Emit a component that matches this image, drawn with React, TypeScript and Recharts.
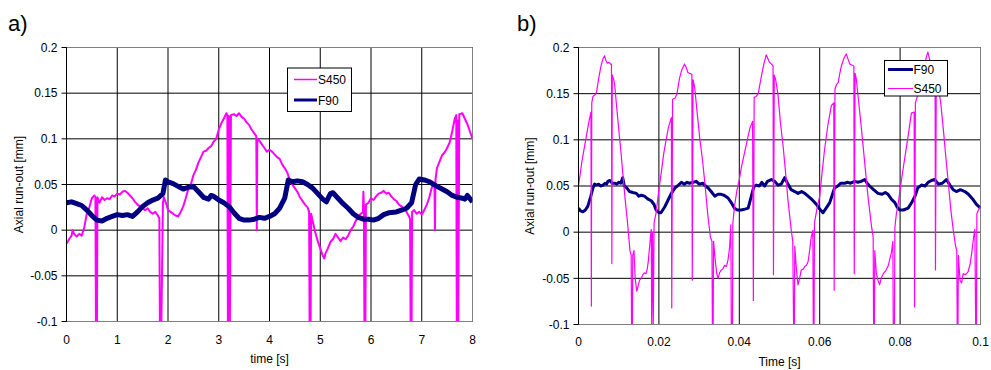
import React from 'react';
import { LineChart, Line, XAxis, YAxis, CartesianGrid, ReferenceLine, Label } from 'recharts';

const FONT = '"Liberation Sans", Arial, Helvetica, sans-serif';
const MAGENTA = '#FF00FF';
const NAVY = '#000080';

// ---- tick labels ----
const timeTicksA = [0, 1, 2, 3, 4, 5, 6, 7, 8]; // s
const timeTicksB = [0, 20, 40, 60, 80, 100]; // ms (shown in s)
const runoutTicks = [-0.1, -0.05, 0, 0.05, 0.1, 0.15, 0.2];

// ---- panel a) : [time s, run-out mm] ----
const aS450: [number, number][] = [
  [0, -0.015], [0.05, -0.01], [0.1, -0.006], [0.12, 0.0], [0.15, -0.004], [0.2, -0.007], [0.25, -0.004], [0.3, -0.006],
  [0.35, 0.003], [0.4, 0.018], [0.45, 0.025], [0.5, 0.035], [0.55, 0.038], [0.57, 0.036], [0.58, -0.1], [0.6, -0.1],
  [0.61, 0.036], [0.65, 0.03], [0.7, 0.036], [0.75, 0.033], [0.8, 0.035], [0.85, 0.034], [0.9, 0.038], [0.95, 0.037],
  [1.0, 0.04], [1.05, 0.039], [1.1, 0.042], [1.15, 0.043], [1.2, 0.041], [1.25, 0.038], [1.3, 0.035], [1.35, 0.031],
  [1.4, 0.028], [1.45, 0.026], [1.5, 0.024], [1.55, 0.022], [1.6, 0.024], [1.65, 0.02], [1.7, 0.018], [1.75, 0.02],
  [1.8, 0.016], [1.83, 0.013], [1.84, -0.1], [1.87, -0.1], [1.9, 0.03], [1.92, 0.036], [1.97, 0.028], [2.0, 0.022],
  [2.05, 0.02], [2.1, 0.018], [2.15, 0.016], [2.2, 0.015], [2.25, 0.02], [2.3, 0.026], [2.35, 0.035], [2.4, 0.045],
  [2.45, 0.05], [2.5, 0.06], [2.55, 0.066], [2.6, 0.074], [2.65, 0.08], [2.7, 0.086], [2.75, 0.087], [2.8, 0.09],
  [2.85, 0.092], [2.9, 0.097], [2.95, 0.1], [3.0, 0.11], [3.05, 0.117], [3.1, 0.122], [3.15, 0.128], [3.17, 0.126],
  [3.18, -0.1], [3.19, -0.1], [3.2, 0.125], [3.22, -0.1], [3.24, 0.126], [3.3, 0.127], [3.35, 0.125], [3.4, 0.128],
  [3.45, 0.124], [3.5, 0.122], [3.55, 0.118], [3.6, 0.115], [3.65, 0.11], [3.7, 0.106], [3.74, 0.103], [3.75, 0.0],
  [3.76, 0.1], [3.8, 0.098], [3.85, 0.094], [3.9, 0.09], [3.95, 0.086], [4.0, 0.088], [4.05, 0.086], [4.1, 0.083],
  [4.15, 0.08], [4.2, 0.078], [4.25, 0.072], [4.3, 0.068], [4.35, 0.063], [4.4, 0.055], [4.45, 0.05], [4.5, 0.046],
  [4.55, 0.042], [4.6, 0.036], [4.65, 0.032], [4.7, 0.028], [4.75, 0.025], [4.78, 0.02], [4.79, -0.1], [4.81, -0.1],
  [4.82, 0.018], [4.85, 0.01], [4.9, -0.002], [4.95, -0.012], [5.0, -0.02], [5.05, -0.028], [5.08, -0.031], [5.1, -0.026],
  [5.15, -0.02], [5.2, -0.013], [5.25, -0.01], [5.3, -0.004], [5.35, -0.008], [5.4, -0.012], [5.45, -0.008], [5.5, -0.01],
  [5.55, -0.006], [5.6, 0.0], [5.65, 0.004], [5.7, 0.01], [5.75, 0.015], [5.8, 0.018], [5.84, 0.02], [5.85, 0.042],
  [5.86, 0.025], [5.87, -0.1], [5.89, -0.1], [5.9, 0.028], [5.95, 0.03], [6.0, 0.035], [6.05, 0.033], [6.1, 0.037],
  [6.15, 0.04], [6.2, 0.041], [6.25, 0.043], [6.3, 0.04], [6.35, 0.041], [6.4, 0.037], [6.45, 0.034], [6.5, 0.032],
  [6.55, 0.028], [6.6, 0.026], [6.65, 0.024], [6.7, 0.02], [6.75, 0.015], [6.77, 0.012], [6.78, -0.1], [6.8, -0.1],
  [6.81, 0.02], [6.85, 0.022], [6.9, 0.018], [6.95, 0.02], [7.0, 0.017], [7.05, 0.022], [7.1, 0.028], [7.15, 0.036],
  [7.2, 0.047], [7.25, 0.052], [7.26, 0.0], [7.27, 0.055], [7.3, 0.068], [7.35, 0.075], [7.4, 0.082], [7.45, 0.085],
  [7.5, 0.09], [7.55, 0.096], [7.6, 0.108], [7.65, 0.122], [7.68, 0.126], [7.69, -0.1], [7.71, 0.12], [7.72, -0.1],
  [7.74, 0.127], [7.8, 0.128], [7.85, 0.122], [7.9, 0.116], [7.95, 0.108], [8.0, 0.1],
];

const aF90: [number, number][] = [
  [0, 0.03], [0.1, 0.031], [0.2, 0.029], [0.3, 0.027], [0.4, 0.022], [0.5, 0.016], [0.6, 0.011], [0.7, 0.01],
  [0.8, 0.013], [0.9, 0.015], [1.0, 0.017], [1.1, 0.016], [1.2, 0.017], [1.3, 0.015], [1.4, 0.02], [1.5, 0.026],
  [1.6, 0.03], [1.7, 0.033], [1.8, 0.035], [1.9, 0.04], [1.95, 0.055], [2.0, 0.053], [2.1, 0.051], [2.2, 0.048],
  [2.3, 0.045], [2.4, 0.047], [2.5, 0.048], [2.6, 0.042], [2.7, 0.036], [2.8, 0.034], [2.85, 0.038], [2.9, 0.037],
  [3.0, 0.033], [3.1, 0.03], [3.2, 0.026], [3.3, 0.019], [3.4, 0.013], [3.5, 0.011], [3.6, 0.011], [3.7, 0.012],
  [3.8, 0.014], [3.9, 0.013], [4.0, 0.015], [4.1, 0.018], [4.2, 0.024], [4.3, 0.035], [4.37, 0.055], [4.45, 0.053],
  [4.55, 0.054], [4.65, 0.053], [4.75, 0.05], [4.85, 0.046], [4.95, 0.04], [5.05, 0.034], [5.12, 0.031], [5.2, 0.04],
  [5.25, 0.041], [5.35, 0.035], [5.45, 0.029], [5.55, 0.024], [5.65, 0.018], [5.75, 0.014], [5.85, 0.012], [5.95, 0.012],
  [6.05, 0.011], [6.15, 0.013], [6.25, 0.017], [6.35, 0.019], [6.5, 0.02], [6.6, 0.022], [6.7, 0.024], [6.8, 0.03],
  [6.88, 0.05], [6.95, 0.056], [7.05, 0.055], [7.15, 0.053], [7.3, 0.048], [7.4, 0.045], [7.5, 0.042], [7.6, 0.038],
  [7.7, 0.036], [7.8, 0.035], [7.85, 0.034], [7.9, 0.038], [8.0, 0.031],
];

// ---- panel b) : [time ms, run-out mm] ----
const bF90: [number, number][] = [
  [0, 0.026], [0.5, 0.023], [1.1, 0.022], [1.7, 0.024], [2.3, 0.028], [3.0, 0.038], [3.6, 0.048], [4.0, 0.052],
  [4.4, 0.051], [5.0, 0.052], [5.5, 0.05], [6.1, 0.051], [6.6, 0.053], [7.0, 0.052], [7.3, 0.055], [7.8, 0.056],
  [8.4, 0.053], [9.0, 0.053], [9.5, 0.052], [10.0, 0.054], [10.5, 0.053], [11.0, 0.059], [11.4, 0.05], [12.0, 0.048],
  [12.7, 0.044], [13.5, 0.043], [14.4, 0.042], [15.0, 0.039], [15.6, 0.04], [16.4, 0.039], [17.2, 0.036], [18.1, 0.034],
  [18.8, 0.03], [19.3, 0.024], [20.0, 0.021], [20.5, 0.021], [21.4, 0.027], [22.2, 0.034], [23.1, 0.042], [24.0, 0.048],
  [24.6, 0.05], [25.6, 0.054], [26.3, 0.052], [27.0, 0.054], [27.6, 0.053], [28.5, 0.054], [29.3, 0.055], [30.0, 0.052],
  [31.0, 0.053], [31.6, 0.05], [32.2, 0.048], [33.0, 0.044], [33.9, 0.039], [34.7, 0.041], [35.5, 0.041], [36.2, 0.04],
  [37.2, 0.037], [38.0, 0.032], [38.8, 0.026], [39.5, 0.024], [40.5, 0.024], [41.4, 0.025], [42.2, 0.026], [43.0, 0.039],
  [43.6, 0.049], [44.2, 0.051], [45.0, 0.05], [45.6, 0.054], [46.3, 0.05], [47.0, 0.055], [48.0, 0.057], [48.8, 0.055],
  [49.6, 0.051], [50.4, 0.052], [51.3, 0.059], [52.0, 0.053], [52.9, 0.046], [53.8, 0.044], [54.6, 0.042], [55.5, 0.044],
  [56.3, 0.042], [57.1, 0.039], [57.9, 0.036], [58.6, 0.033], [59.2, 0.03], [60.0, 0.025], [60.8, 0.021], [61.6, 0.026],
  [62.5, 0.032], [63.1, 0.04], [63.7, 0.048], [64.5, 0.05], [65.2, 0.053], [66.2, 0.053], [67.0, 0.054], [67.7, 0.053],
  [68.7, 0.055], [69.5, 0.054], [70.3, 0.055], [71.2, 0.057], [71.8, 0.053], [72.4, 0.05], [73.4, 0.046], [74.5, 0.042],
  [75.5, 0.041], [76.3, 0.043], [77.0, 0.041], [77.8, 0.036], [78.7, 0.032], [79.3, 0.027], [79.9, 0.024], [80.8, 0.024],
  [82.0, 0.026], [83.0, 0.033], [83.7, 0.039], [84.4, 0.048], [85.3, 0.051], [86.2, 0.05], [87.0, 0.054], [87.8, 0.056],
  [88.6, 0.057], [89.5, 0.052], [90.5, 0.053], [91.5, 0.057], [92.4, 0.051], [93.2, 0.046], [94.0, 0.044], [95.0, 0.046],
  [96.1, 0.044], [97.0, 0.041], [98.2, 0.035], [99.0, 0.03], [100, 0.026],
];

const bS450: [number, number][] = [
  [0, 0.05], [0.8, 0.075], [1.5, 0.093], [2.2, 0.11], [2.7, 0.122], [3.1, 0.13], [3.2, -0.08], [3.3, 0.14],
  [3.6, 0.147], [4.2, 0.149], [4.5, 0.152], [5.0, 0.166], [5.6, 0.18], [6.1, 0.188], [6.5, 0.191], [6.8, 0.186],
  [7.2, 0.183], [7.6, 0.184], [8.0, 0.182], [8.2, 0.182], [8.3, -0.034], [8.4, 0.17], [8.7, 0.166], [9.0, 0.16],
  [9.4, 0.14], [10.0, 0.112], [10.6, 0.085], [11.2, 0.055], [11.6, 0.036], [12.2, 0.01], [12.8, -0.02], [13.1, -0.025],
  [13.2, -0.1], [13.4, -0.1], [13.5, -0.025], [13.8, -0.02], [14.1, -0.05], [14.5, -0.064], [14.9, -0.057], [15.2, -0.052],
  [15.6, -0.05], [16.0, -0.046], [16.4, -0.044], [16.8, -0.045], [17.1, -0.04], [17.4, -0.03], [17.8, -0.01], [18.1, 0.003],
  [18.2, -0.1], [18.4, 0.0], [18.6, -0.1], [18.8, 0.01], [19.3, 0.021], [20.0, 0.046],
  [20.6, 0.065], [21.2, 0.085], [21.8, 0.1], [22.4, 0.114], [23.1, 0.124], [23.2, -0.082], [23.4, 0.144], [24.0, 0.145],
  [24.5, 0.15], [25.1, 0.166], [25.7, 0.176], [26.4, 0.182], [26.8, 0.178], [27.2, 0.173], [27.6, 0.172], [28.2, 0.171],
  [28.3, -0.052], [28.5, 0.165], [28.9, 0.157], [29.5, 0.13], [30.2, 0.1], [30.8, 0.08], [31.5, 0.05], [32.2, 0.017],
  [32.8, -0.005], [33.2, -0.01], [33.3, -0.1], [33.5, -0.1], [33.6, -0.01], [34.0, -0.03], [34.4, -0.045], [34.7, -0.05],
  [35.1, -0.044], [35.5, -0.041], [35.9, -0.04], [36.3, -0.036], [36.8, -0.037], [37.2, -0.03], [37.6, -0.016], [37.9, 0.008],
  [38.0, -0.1], [38.3, -0.1], [38.4, 0.01], [38.8, 0.028], [39.4, 0.045], [40.0, 0.057],
  [40.6, 0.072], [41.3, 0.086], [42.0, 0.1], [42.6, 0.112], [43.3, 0.12], [43.5, -0.074], [43.7, 0.146], [44.2, 0.147],
  [44.7, 0.15], [45.5, 0.169], [46.1, 0.182], [46.7, 0.192], [47.1, 0.188], [47.5, 0.184], [48.0, 0.182], [48.4, 0.18],
  [48.5, -0.046], [48.7, 0.17], [49.0, 0.166], [49.6, 0.15], [50.2, 0.12], [50.9, 0.093], [51.5, 0.065], [52.1, 0.035],
  [52.9, 0.003], [53.3, -0.01], [53.5, -0.1], [53.7, -0.1], [53.8, -0.015], [54.2, -0.04], [54.6, -0.057], [55.0, -0.05],
  [55.4, -0.041], [55.9, -0.04], [56.3, -0.037], [56.7, -0.036], [57.1, -0.032], [57.5, -0.02], [57.9, -0.005], [58.3, 0.002],
  [58.4, -0.1], [58.6, -0.1], [58.7, 0.01], [59.3, 0.025], [60.0, 0.039],
  [60.6, 0.065], [61.2, 0.089], [62.0, 0.115], [62.9, 0.137], [63.5, 0.14], [63.6, -0.063], [63.8, 0.155], [64.2, 0.16],
  [64.6, 0.162], [65.0, 0.172], [65.4, 0.18], [66.0, 0.188], [66.6, 0.193], [67.0, 0.188], [67.5, 0.182], [68.0, 0.181],
  [68.5, 0.18], [68.6, -0.045], [68.8, 0.172], [69.1, 0.166], [69.6, 0.145], [70.4, 0.111], [71.2, 0.075], [72.0, 0.039],
  [72.9, 0.006], [73.3, -0.005], [73.4, -0.1], [73.6, -0.1], [73.7, -0.02], [74.1, -0.045], [74.5, -0.052], [74.9, -0.057],
  [75.3, -0.05], [75.8, -0.045], [76.4, -0.042], [77.0, -0.037], [77.4, -0.03], [77.8, -0.023], [78.2, -0.01], [78.3, -0.1],
  [78.6, -0.1], [78.7, 0.005], [79.1, 0.021], [79.5, 0.03], [80.0, 0.046],
  [80.8, 0.07], [81.6, 0.093], [82.2, 0.11], [82.8, 0.129], [83.5, 0.13], [83.6, -0.081], [83.8, 0.14], [84.3, 0.147],
  [84.8, 0.155], [85.3, 0.166], [85.9, 0.178], [86.5, 0.189], [86.9, 0.195], [87.3, 0.188], [87.8, 0.18], [88.2, 0.178],
  [88.7, 0.175], [88.8, -0.041], [89.0, 0.165], [89.5, 0.158], [90.1, 0.14], [90.7, 0.114], [91.3, 0.085], [92.0, 0.053],
  [92.6, 0.025], [93.2, 0.003], [93.8, -0.015], [94.1, -0.02], [94.2, -0.1], [94.4, -0.1], [94.5, -0.025], [94.9, -0.052],
  [95.3, -0.055], [95.7, -0.045], [96.3, -0.046], [96.9, -0.043], [97.4, -0.035], [97.8, -0.023], [98.3, -0.005], [98.6, 0.003],
  [98.8, -0.1], [99.0, -0.1], [99.1, 0.02], [99.5, 0.024], [100, 0.028],
];

const toPts = (arr: [number, number][]) => arr.map(([t, v]) => ({ t, v }));

const tickStyle = { fontSize: 12, fill: '#000', fontFamily: FONT };

function Panel(props: {
  width: number;
  margin: { top: number; right: number; bottom: number; left: number };
  xTicks: number[];
  xFmt: (v: number) => string;
  xLabel: string;
  yLabelOffset: number;
  xTickMargin: number;
  series: { name: string; data: [number, number][]; color: string; width: number }[];
}) {
  const { width, margin, xTicks, xFmt, xLabel, series, yLabelOffset, xTickMargin } = props;
  const xMax = xTicks[xTicks.length - 1];
  return (
    <LineChart width={width} height={370} margin={margin} style={{ fontFamily: FONT }}>
      <CartesianGrid stroke="#000" strokeWidth={1} />
      <XAxis
        type="number"
        dataKey="t"
        domain={[0, xMax]}
        ticks={xTicks}
        tickFormatter={xFmt}
        allowDataOverflow
        height={30}
        tickLine={false}
        tickSize={0}
        tickMargin={xTickMargin}
        tick={tickStyle}
        axisLine={{ stroke: '#808080' }}
        interval={0}
      >
        <Label value={xLabel} position="bottom" offset={3} style={{ fontSize: 12, fill: '#000', fontFamily: FONT }} />
      </XAxis>
      <YAxis
        type="number"
        domain={[-0.1, 0.2]}
        ticks={runoutTicks}
        tickFormatter={(v: number) => String(v)}
        allowDataOverflow
        width={50}
        tickSize={5}
        tickMargin={4}
        tick={tickStyle}
        tickLine={{ stroke: '#000' }}
        axisLine={{ stroke: '#000' }}
        interval={0}
      >
        <Label
          value="Axial run-out [mm]"
          angle={-90}
          position="insideLeft"
          offset={yLabelOffset}
          style={{ fontSize: 12, fill: '#000', fontFamily: FONT, textAnchor: 'middle' }}
        />
      </YAxis>
      <ReferenceLine y={0.2} stroke="#808080" />
      <ReferenceLine x={xMax} stroke="#808080" />
      {series.map((s) => (
        <Line
          key={s.name}
          data={toPts(s.data)}
          dataKey="v"
          name={s.name}
          type="linear"
          stroke={s.color}
          strokeWidth={s.width}
          strokeLinejoin="round"
          dot={false}
          activeDot={false}
          isAnimationActive={false}
        />
      ))}
    </LineChart>
  );
}

export default function App() {
  return (
    <div style={{ position: 'absolute', left: 0, top: 0, width: 991, height: 370, background: '#fff', fontFamily: FONT }}>
      <div style={{ position: 'absolute', left: 0, top: 0 }}>
        <Panel
          width={495}
          margin={{ top: 47.5, right: 22.5, bottom: 18.5, left: 16.5 }}
          xTicks={timeTicksA}
          xFmt={(v) => String(v)}
          xLabel="time [s]"
          yLabelOffset={2.5}
          xTickMargin={13.5}
          series={[
            { name: 'S450', data: aS450, color: MAGENTA, width: 2 },
            { name: 'F90', data: aF90, color: NAVY, width: 5 },
          ]}
        />
      </div>
      <div style={{ position: 'absolute', left: 495, top: 0 }}>
        <Panel
          width={496}
          margin={{ top: 47.5, right: 10.5, bottom: 15.5, left: 33.5 }}
          xTicks={timeTicksB}
          xFmt={(v) => String(v / 1000)}
          xLabel="Time [s]"
          yLabelOffset={1.5}
          xTickMargin={12.5}
          series={[
            { name: 'F90', data: bF90, color: NAVY, width: 3 },
            { name: 'S450', data: bS450, color: MAGENTA, width: 1.2 },
          ]}
        />
      </div>
      <svg width={991} height={370} style={{ position: 'absolute', left: 0, top: 0, pointerEvents: 'none' }}>
        <g fontFamily={FONT} fill="#000">
          <text x={8} y={31} fontSize={22}>a)</text>
          <text x={517} y={31} fontSize={22}>b)</text>

          <rect x={287.5} y={68} width={64} height={43.5} fill="#fff" stroke="#000" strokeWidth={1} />
          <line x1={294} x2={317} y1={79.5} y2={79.5} stroke={MAGENTA} strokeWidth={1.5} />
          <text x={318} y={84} fontSize={12}>S450</text>
          <line x1={294} x2={317} y1={100} y2={100} stroke={NAVY} strokeWidth={3} />
          <text x={318} y={104.5} fontSize={12}>F90</text>

          <rect x={884.5} y={60.5} width={63} height={35.5} fill="#fff" stroke="#000" strokeWidth={1} />
          <line x1={888} x2={913} y1={69.5} y2={69.5} stroke={NAVY} strokeWidth={3} />
          <text x={913.5} y={74} fontSize={12}>F90</text>
          <line x1={888} x2={913} y1={88.5} y2={88.5} stroke={MAGENTA} strokeWidth={1} />
          <text x={913.5} y={93} fontSize={12}>S450</text>
        </g>
      </svg>
    </div>
  );
}
